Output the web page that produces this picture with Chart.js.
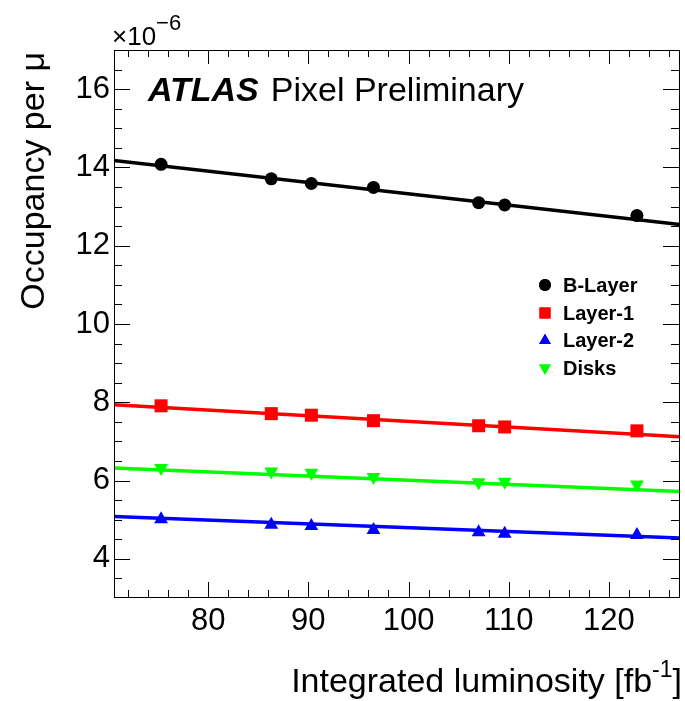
<!DOCTYPE html>
<html>
<head>
<meta charset="utf-8">
<script src="https://cdn.jsdelivr.net/npm/chart.js@4"></script>
<style>
  html, body { margin: 0; padding: 0; background: #fff; }
  #wrap { width: 685px; height: 701px; }
</style>
</head>
<body>
<div id="wrap"><canvas id="occ" width="685" height="701"></canvas></div>
<script>
// Integrated luminosity [fb^-1] of each run (same for all layers)
const lumi = [75.3, 86.3, 90.3, 96.5, 107.0, 109.6, 122.8];

// Occupancy per mu, in units of 1e-6
const bLayer = [14.08, 13.71, 13.59, 13.49, 13.10, 13.04, 12.77];
const layer1 = [7.91, 7.71, 7.67, 7.53, 7.40, 7.37, 7.27];
const layer2 = [5.01, 4.87, 4.84, 4.74, 4.68, 4.64, 4.61];
const disks = [6.32, 6.23, 6.20, 6.09, 5.96, 5.97, 5.90];

// linear fits, value at the left and right edge of the x range
const fitX = [70.6, 127.1];
const fitB = [14.18, 12.54];
const fitL1 = [7.94, 7.12];
const fitL2 = [5.08, 4.53];
const fitD = [6.32, 5.72];

const xTicks = [80, 90, 100, 110, 120];
const yTicks = [4, 6, 8, 10, 12, 14, 16];

const FONT = '"Liberation Sans", Arial, Helvetica, sans-serif';

function pts(xs, ys) {
  return xs.map((x, i) => ({ x: x, y: ys[i] }));
}

function markers(label, ys, color, style, radius, rotation) {
  return {
    label: label,
    data: pts(lumi, ys),
    showLine: false,
    pointStyle: style,
    pointRadius: radius,
    pointRotation: rotation || 0,
    backgroundColor: color,
    borderColor: color,
    borderWidth: 0,
    order: 0
  };
}

function fitLine(ys, color) {
  return {
    label: 'fit',
    data: pts(fitX, ys),
    showLine: true,
    pointRadius: 0,
    borderColor: color,
    borderWidth: 3.5,
    fill: false,
    order: 1
  };
}

// Draws the ROOT style frame with inward ticks, titles, ATLAS label and legend
const decorations = {
  id: 'decorations',
  afterDraw(chart) {
    const ctx = chart.ctx;
    const a = chart.chartArea;
    const xs = chart.scales.x, ys = chart.scales.y;
    ctx.save();

    // frame
    ctx.strokeStyle = '#000';
    ctx.lineWidth = 1;
    ctx.strokeRect(a.left + 0.5, a.top + 0.5, a.right - a.left - 1, a.bottom - a.top - 1);

    ctx.beginPath();
    for (let v = 72; v <= 127; v += 2) {
      const px = Math.round(xs.getPixelForValue(v)) + 0.5;
      const major = v % 10 === 0;
      ctx.moveTo(px, a.bottom); ctx.lineTo(px, a.bottom - (major ? 16 : 8));
      ctx.moveTo(px, a.top); ctx.lineTo(px, a.top + (major ? 14 : 7));
    }
    for (let v = 3.5; v <= 16.5; v += 0.5) {
      const py = Math.round(ys.getPixelForValue(v)) + 0.5;
      const major = v % 2 === 0;
      ctx.moveTo(a.left, py); ctx.lineTo(a.left + (major ? 16 : 8), py);
      ctx.moveTo(a.right, py); ctx.lineTo(a.right - (major ? 17 : 9), py);
    }
    ctx.stroke();

    ctx.fillStyle = '#000';
    ctx.textBaseline = 'alphabetic';

    // x axis title with superscript
    const t1 = 'Integrated luminosity [fb', t3 = ']';
    ctx.font = '23px ' + FONT;
    const wSup = ctx.measureText('-1').width;
    ctx.font = '34px ' + FONT;
    const w1 = ctx.measureText(t1).width, w3 = ctx.measureText(t3).width;
    let x0 = 682 - w1 - wSup - w3;
    ctx.textAlign = 'left';
    ctx.fillText(t1, x0, 692);
    ctx.font = '23px ' + FONT;
    ctx.fillText('-1', x0 + w1, 677);
    ctx.font = '34px ' + FONT;
    ctx.fillText(t3, x0 + w1 + wSup, 692);

    // y axis title
    ctx.save();
    ctx.translate(44, 52);
    ctx.rotate(-Math.PI / 2);
    ctx.textAlign = 'right';
    ctx.fillText('Occupancy per \u03bc', 0, 0);
    ctx.restore();

    // exponent
    ctx.textAlign = 'left';
    ctx.font = '26px ' + FONT;
    ctx.fillText('\u00d710', 112, 45);
    const wx = ctx.measureText('\u00d710').width;
    ctx.font = '22px ' + FONT;
    ctx.fillText('\u22126', 112 + wx, 30);

    // ATLAS label
    ctx.font = 'italic bold 34px ' + FONT;
    ctx.fillText('ATLAS', 148, 101);
    const wa = ctx.measureText('ATLAS').width;
    ctx.font = '34px ' + FONT;
    ctx.fillText('Pixel Preliminary', 148 + wa + 12, 101);

    // legend
    const rows = [285, 313, 340.5, 368];
    const legendSets = chart.data.datasets.filter(d => !d.showLine);
    ctx.font = 'bold 20px ' + FONT;
    ctx.textBaseline = 'middle';
    legendSets.forEach((d, i) => {
      ctx.fillStyle = d.backgroundColor;
      Chart.helpers.drawPoint(ctx, {
        pointStyle: d.pointStyle,
        radius: d.pointStyle === 'circle' ? 6 : d.pointRadius * 0.85,
        rotation: d.pointRotation,
        borderWidth: 0
      }, 545, rows[i]);
      ctx.fill();
      ctx.fillStyle = '#000';
      ctx.fillText(d.label, 563, rows[i] + 1);
    });

    ctx.restore();
  }
};

new Chart(document.getElementById('occ'), {
  type: 'scatter',
  data: {
    datasets: [
      markers('B-Layer', bLayer, '#000000', 'circle', 6.5),
      markers('Layer-1', layer1, '#ff0000', 'rect', 9.2),
      markers('Layer-2', layer2, '#0000ff', 'triangle', 8),
      markers('Disks', disks, '#00ff00', 'triangle', 8, 180),
      fitLine(fitB, '#000000'),
      fitLine(fitL1, '#ff0000'),
      fitLine(fitL2, '#0000ff'),
      fitLine(fitD, '#00ff00')
    ]
  },
  options: {
    responsive: false,
    animation: false,
    devicePixelRatio: 1,
    layout: { autoPadding: false, padding: { top: 50, right: 5, left: 0, bottom: 0 } },
    plugins: {
      legend: { display: false },
      tooltip: { enabled: false }
    },
    scales: {
      x: {
        type: 'linear',
        min: fitX[0],
        max: fitX[1],
        afterBuildTicks: s => { s.ticks = xTicks.map(v => ({ value: v })); },
        afterFit: s => { s.height = 103; s.paddingLeft = 0; s.paddingRight = 0; },
        grid: { display: false, drawTicks: false },
        border: { display: false },
        ticks: { color: '#000', font: { family: FONT, size: 31 }, padding: 5, maxRotation: 0 }
      },
      y: {
        type: 'linear',
        min: 3,
        max: 17,
        afterBuildTicks: s => { s.ticks = yTicks.map(v => ({ value: v })); },
        afterFit: s => { s.width = 114; s.paddingTop = 0; s.paddingBottom = 0; },
        grid: { display: false, drawTicks: false },
        border: { display: false },
        ticks: { color: '#000', font: { family: FONT, size: 31 }, padding: 4 }
      }
    }
  },
  plugins: [decorations]
});
</script>
</body>
</html>
